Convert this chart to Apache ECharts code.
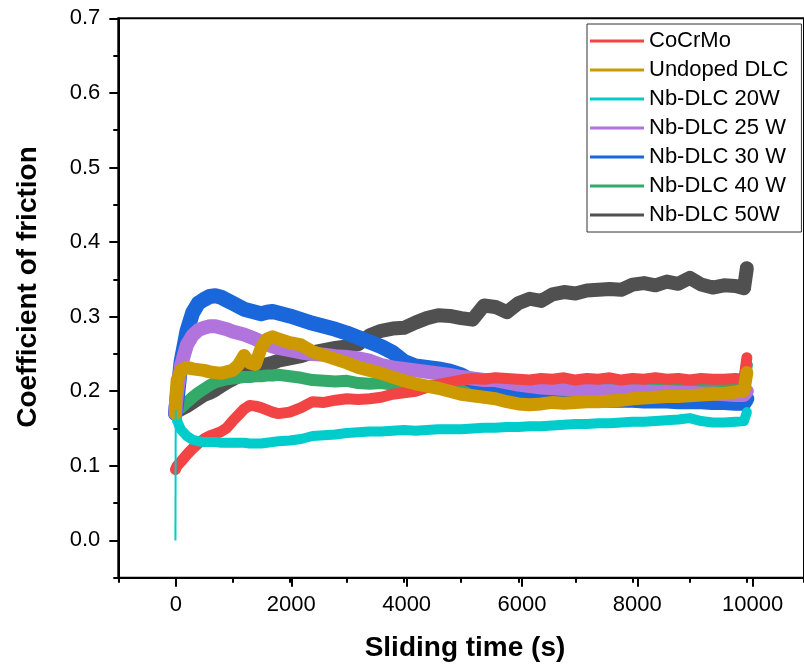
<!DOCTYPE html>
<html>
<head>
<meta charset="utf-8">
<script src="https://cdn.jsdelivr.net/npm/echarts@6/dist/echarts.min.js"></script>
<style>
html,body{margin:0;padding:0;background:#fff;}
#chart{width:804px;height:671px;}
</style>
</head>
<body>
<div id="chart"></div>
<script>
// ---- data ----
var timeS = [0, 5, 30, 100, 200, 300, 400, 500, 600, 700, 800, 900, 1000, 1100, 1200, 1300, 1400, 1500, 1600, 1700, 1800,
  2000, 2200, 2400, 2600, 2800, 3000, 3200, 3400, 3600, 3800, 4000, 4200, 4400, 4600, 4800, 5000, 5200, 5400, 5600, 5800,
  6000, 6200, 6400, 6600, 6800, 7000, 7200, 7400, 7600, 7800, 8000, 8200, 8400, 8600, 8800, 9000, 9200, 9400, 9600, 9800,
  9950, 10000];

var cocrmo = [0.095, 0.097, 0.100, 0.106, 0.115, 0.123, 0.130, 0.136, 0.140, 0.143, 0.146, 0.151, 0.160, 0.168, 0.176, 0.181, 0.180, 0.178, 0.175, 0.172, 0.170,
  0.172, 0.178, 0.186, 0.185, 0.188, 0.190, 0.189, 0.190, 0.192, 0.196, 0.198, 0.200, 0.205, 0.209, 0.212, 0.215, 0.217, 0.216, 0.218, 0.217,
  0.216, 0.215, 0.217, 0.216, 0.218, 0.215, 0.217, 0.216, 0.218, 0.215, 0.217, 0.216, 0.218, 0.216, 0.217, 0.215, 0.217, 0.216, 0.216, 0.217,
  0.216, 0.245];

var undoped = [0.170, 0.190, 0.215, 0.228, 0.232, 0.230, 0.229, 0.228, 0.226, 0.225, 0.224, 0.226, 0.228, 0.235, 0.248, 0.238, 0.236, 0.258, 0.270, 0.273, 0.270,
  0.265, 0.262, 0.253, 0.248, 0.243, 0.238, 0.232, 0.228, 0.224, 0.219, 0.214, 0.210, 0.207, 0.204, 0.200, 0.196, 0.194, 0.192, 0.190, 0.186,
  0.183, 0.182, 0.183, 0.185, 0.184, 0.185, 0.186, 0.186, 0.187, 0.188, 0.190, 0.191, 0.192, 0.193, 0.193, 0.194, 0.195, 0.196, 0.197, 0.199,
  0.201, 0.225];

var nb20 = [0.000, 0.175, 0.160, 0.148, 0.140, 0.135, 0.133, 0.132, 0.132, 0.132, 0.131, 0.131, 0.131, 0.131, 0.131, 0.130, 0.130, 0.130, 0.131, 0.132, 0.133,
  0.134, 0.136, 0.140, 0.141, 0.142, 0.144, 0.145, 0.146, 0.146, 0.147, 0.148, 0.147, 0.148, 0.149, 0.149, 0.149, 0.150, 0.151, 0.151, 0.152,
  0.152, 0.153, 0.153, 0.154, 0.155, 0.156, 0.156, 0.157, 0.157, 0.158, 0.159, 0.159, 0.160, 0.161, 0.162, 0.164, 0.160, 0.158, 0.158, 0.159,
  0.160, 0.172];

var nb25 = [0.170, 0.180, 0.200, 0.235, 0.262, 0.275, 0.282, 0.285, 0.287, 0.287, 0.285, 0.283, 0.280, 0.278, 0.276, 0.273, 0.270, 0.266, 0.263, 0.260, 0.258,
  0.255, 0.252, 0.250, 0.249, 0.247, 0.246, 0.244, 0.241, 0.235, 0.232, 0.230, 0.228, 0.226, 0.224, 0.222, 0.219, 0.217, 0.215, 0.215, 0.212,
  0.209, 0.207, 0.205, 0.204, 0.203, 0.202, 0.201, 0.200, 0.200, 0.199, 0.200, 0.200, 0.199, 0.199, 0.198, 0.198, 0.197, 0.197, 0.196, 0.195,
  0.195, 0.200];

var nb30 = [0.170, 0.175, 0.190, 0.240, 0.280, 0.305, 0.318, 0.323, 0.327, 0.328, 0.326, 0.322, 0.318, 0.314, 0.310, 0.308, 0.306, 0.304, 0.306, 0.307, 0.305,
  0.301, 0.296, 0.291, 0.287, 0.283, 0.278, 0.272, 0.266, 0.260, 0.252, 0.240, 0.234, 0.232, 0.230, 0.227, 0.222, 0.214, 0.205, 0.198, 0.196,
  0.194, 0.193, 0.192, 0.193, 0.192, 0.190, 0.190, 0.189, 0.188, 0.188, 0.188, 0.187, 0.187, 0.187, 0.186, 0.186, 0.186, 0.185, 0.185, 0.184,
  0.184, 0.190];

var nb40 = [0.170, 0.172, 0.176, 0.178, 0.185, 0.192, 0.198, 0.203, 0.208, 0.212, 0.214, 0.216, 0.217, 0.218, 0.219, 0.219, 0.220, 0.220, 0.221, 0.221, 0.222,
  0.220, 0.218, 0.215, 0.214, 0.213, 0.214, 0.211, 0.210, 0.211, 0.209, 0.208, 0.207, 0.207, 0.208, 0.209, 0.210, 0.209, 0.210, 0.211, 0.210,
  0.211, 0.212, 0.211, 0.210, 0.211, 0.212, 0.211, 0.210, 0.211, 0.210, 0.211, 0.210, 0.211, 0.212, 0.211, 0.210, 0.211, 0.210, 0.211, 0.210,
  0.211, 0.235];

var nb50 = [0.170, 0.172, 0.174, 0.176, 0.180, 0.185, 0.190, 0.195, 0.198, 0.202, 0.207, 0.212, 0.216, 0.220, 0.226, 0.230, 0.232, 0.234, 0.236, 0.238, 0.241,
  0.244, 0.247, 0.252, 0.255, 0.258, 0.260, 0.263, 0.275, 0.281, 0.284, 0.285, 0.292, 0.298, 0.302, 0.301, 0.298, 0.296, 0.315, 0.313, 0.306,
  0.318, 0.324, 0.321, 0.330, 0.333, 0.331, 0.335, 0.336, 0.337, 0.336, 0.343, 0.345, 0.342, 0.347, 0.344, 0.352, 0.343, 0.339, 0.342, 0.341,
  0.338, 0.365];

var seriesNames = ['CoCrMo', 'Undoped DLC', 'Nb-DLC 20W', 'Nb-DLC 25 W', 'Nb-DLC 30 W', 'Nb-DLC 40 W', 'Nb-DLC 50W'];
var xTickLabels = ['0', '2000', '4000', '6000', '8000', '10000'];
var yTickLabels = ['0.0', '0.1', '0.2', '0.3', '0.4', '0.5', '0.6', '0.7'];

// ---- chart ----
function pairs(vals, from) {
  var out = [];
  for (var i = from || 0; i < vals.length; i++) out.push([timeS[i], vals[i]]);
  return out;
}

var colors = {
  'CoCrMo': '#F24444',
  'Undoped DLC': '#CC9900',
  'Nb-DLC 20W': '#00CCCC',
  'Nb-DLC 25 W': '#B173DC',
  'Nb-DLC 30 W': '#1A66DB',
  'Nb-DLC 40 W': '#33AA6A',
  'Nb-DLC 50W': '#505050'
};
var widths = {
  'CoCrMo': 11, 'Undoped DLC': 13, 'Nb-DLC 20W': 10, 'Nb-DLC 25 W': 14,
  'Nb-DLC 30 W': 15, 'Nb-DLC 40 W': 12, 'Nb-DLC 50W': 14
};
var valuesByName = {
  'CoCrMo': cocrmo, 'Undoped DLC': undoped, 'Nb-DLC 20W': nb20, 'Nb-DLC 25 W': nb25,
  'Nb-DLC 30 W': nb30, 'Nb-DLC 40 W': nb40, 'Nb-DLC 50W': nb50
};
// drawing order (bottom to top)
var drawOrder = ['Nb-DLC 50W', 'Nb-DLC 40 W', 'Nb-DLC 30 W', 'Nb-DLC 25 W', 'CoCrMo', 'Nb-DLC 20W', 'Undoped DLC'];

var series = [];
drawOrder.forEach(function (name) {
  series.push({
    name: name,
    type: 'line',
    xAxisIndex: 0, yAxisIndex: 0,
    data: pairs(valuesByName[name], name === 'Nb-DLC 20W' ? 1 : 0),
    showSymbol: false,
    symbol: 'none',
    color: colors[name],
    lineStyle: { width: widths[name], color: colors[name], cap: 'round', join: 'round' },
    z: 2
  });
});
// thin initial spike of the 20W curve
series.push({
  name: 'spike20',
  type: 'line',
  xAxisIndex: 0, yAxisIndex: 0,
  data: pairs(nb20).slice(0, 2),
  showSymbol: false,
  symbol: 'none',
  lineStyle: { width: 2, color: colors['Nb-DLC 20W'] },
  z: 2
});

var G = { left: 118.3, top: 18.3, width: 692, height: 559.4 };
var xPer = G.width / 12000;
var yPer = G.height / 0.75;
var FONT = 'Liberation Sans, Arial, sans-serif';

var option = {
  animation: false,
  backgroundColor: '#ffffff',
  grid: [
    { left: G.left, top: G.top, width: G.width, height: G.height, show: true,
      borderColor: '#000', borderWidth: 2, backgroundColor: 'transparent' },
    { left: G.left, top: G.top, width: G.width, height: 0.7 * yPer, show: false },
    { left: G.left + 1000 * xPer, top: G.top, width: 10000 * xPer, height: G.height, show: false }
  ],
  xAxis: [
    { type: 'value', gridIndex: 0, min: -1000, max: 11000, interval: 1000,
      axisLine: { show: true, onZero: false, lineStyle: { color: '#000', width: 2 } },
      axisTick: { show: true, inside: false, length: 5, lineStyle: { color: '#000', width: 2 } },
      axisLabel: { show: false }, splitLine: { show: false } },
    { type: 'value', gridIndex: 1, min: 0, max: 10, show: false },
    { type: 'value', gridIndex: 2, min: 0, max: 10000, interval: 2000, position: 'bottom',
      axisLine: { show: false, onZero: false },
      axisTick: { show: true, inside: false, length: 9, lineStyle: { color: '#000', width: 2 } },
      axisLabel: { show: true, margin: 16, fontFamily: FONT, fontSize: 22, color: '#000',
        formatter: function (v) { return xTickLabels[Math.round(v / 2000)]; } },
      splitLine: { show: false } }
  ],
  yAxis: [
    { type: 'value', gridIndex: 0, min: -0.05, max: 0.7, interval: 0.05,
      axisLine: { show: true, onZero: false, lineStyle: { color: '#000', width: 2 } },
      axisTick: { show: true, inside: false, length: 5, lineStyle: { color: '#000', width: 2 } },
      axisLabel: { show: false }, splitLine: { show: false } },
    { type: 'value', gridIndex: 1, min: 0, max: 0.7, interval: 0.1, position: 'left',
      axisLine: { show: false, onZero: false },
      axisTick: { show: true, inside: false, length: 9, lineStyle: { color: '#000', width: 2 } },
      axisLabel: { show: true, margin: 18, fontFamily: FONT, fontSize: 22, color: '#000',
        formatter: function (v) { return yTickLabels[Math.round(v * 10)]; } },
      splitLine: { show: false } },
    { type: 'value', gridIndex: 2, min: 0, max: 10, show: false }
  ],
  legend: {
    data: seriesNames,
    orient: 'vertical',
    left: 587, top: 24,
    padding: [6, 13, 6, 3],
    itemGap: 7,
    itemWidth: 54, itemHeight: 3,
    icon: 'rect',
    borderColor: '#333', borderWidth: 1,
    backgroundColor: '#fff',
    textStyle: { fontFamily: FONT, fontSize: 22, lineHeight: 22, color: '#000' }
  },
  graphic: [
    { type: 'text', x: 465, y: 648,
      style: { text: 'Sliding time (s)', font: 'bold 28px "Liberation Sans", Arial, sans-serif', fill: '#000',
        align: 'center', verticalAlign: 'middle' }, z: 10 },
    { type: 'text', x: 28, y: 287, rotation: Math.PI / 2,
      style: { text: 'Coefficient of friction', font: 'bold 28px "Liberation Sans", Arial, sans-serif', fill: '#000',
        align: 'center', verticalAlign: 'middle' }, z: 10 }
  ],
  series: series
};

var chart = echarts.init(document.getElementById('chart'), null, { renderer: 'canvas', width: 804, height: 671 });
chart.setOption(option);
</script>
</body>
</html>
